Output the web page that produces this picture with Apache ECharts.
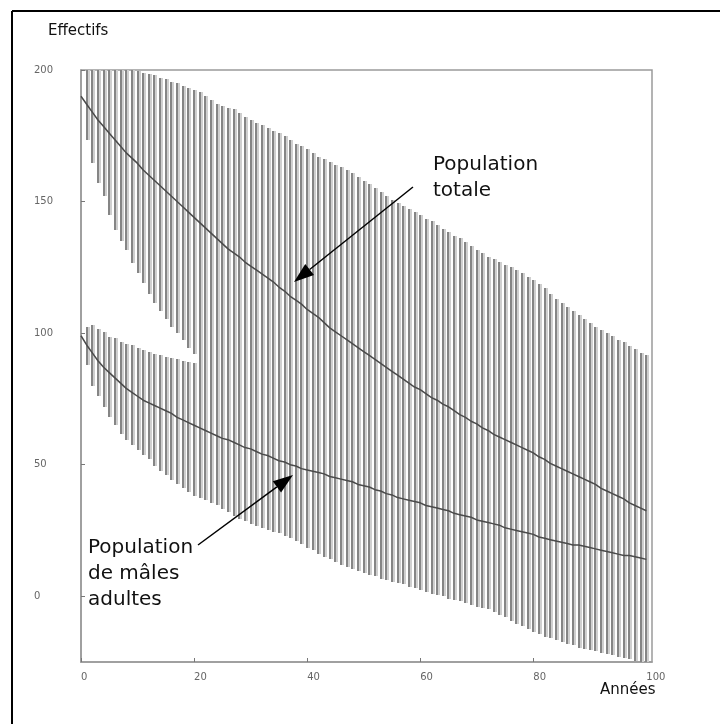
<!DOCTYPE html>
<html>
<head>
<meta charset="utf-8">
<script src="https://cdn.jsdelivr.net/npm/echarts@6/dist/echarts.min.js"></script>
<style>
  html, body { margin: 0; padding: 0; background: #fff; }
  #chart { width: 720px; height: 724px; }
</style>
</head>
<body>
<div id="chart"></div>
<script>
// années 0..100
const years = Array.from({ length: 101 }, (_, i) => i)

// population totale : moyenne, borne basse, borne haute
const totalMean = [190, 187, 184, 181, 178.5, 176, 173.5, 171, 168.5, 166.5,
  164.5, 162, 160, 158, 156, 154, 152, 150, 148, 146,
  144, 142, 140, 138, 136, 134, 132, 130.5, 129, 127,
  125.5, 124, 122.5, 121, 119.5, 117.5, 116, 114, 112.5, 111,
  109, 107.5, 106, 104, 102, 100.5, 99, 97.5, 96, 94.5,
  93, 91.5, 90, 88.5, 87, 85.5, 84, 82.5, 81, 79.5,
  78.5, 77, 75.5, 74.5, 73, 72, 70.5, 69, 68, 66.5,
  65.5, 64, 63, 61.5, 60.5, 59.5, 58.5, 57.5, 56.5, 55.5,
  54.5, 53, 52, 50.5, 49.5, 48.5, 47.5, 46.5, 45.5, 44.5,
  43.5, 42.5, 41, 40, 39, 38, 37, 35.5, 34.5, 33.5, 32.5]
const totalLow = [190, 173.5, 164.5, 157, 152, 145, 139, 135, 131.5, 126.5,
  123, 119, 115, 111.5, 108.5, 105.5, 102.5, 100, 97.5, 94.5,
  92, 88, 85.5, 83, 80.5, 78, 76, 74, 72, 70,
  68, 66, 64, 62, 60, 58, 56, 54, 52, 50,
  48, 46, 44.5, 42, 40, 38, 36, 34, 32, 30,
  28, 26.5, 25, 23.5, 22, 20.5, 19, 17.5, 15.5, 14,
  12.5, 11, 9.5, 8, 6.5, 5.5, 4, 3, 1.5, 0.5,
  -0.5, -1.5, -3, -4, -5, -6, -7, -8, -9, -10,
  -11, -11.5, -12.5, -13, -14, -14.5, -15, -15.5, -16, -16.5,
  -17, -17.5, -18.5, -19, -20, -20.5, -21.5, -22.5, -23.5, -24, -25]
const totalHigh = [190, 200, 200, 200, 200, 200, 200, 200, 200, 200,
  199.5, 199, 198.5, 198, 197, 196.5, 195.5, 195, 194, 193,
  192.5, 191.5, 190, 188.5, 187, 186.5, 185.5, 185, 183.5, 182,
  181, 180, 179, 178, 177, 176, 175, 173.5, 172, 171,
  170, 168.5, 167, 166, 165, 164, 163, 162, 161, 159.5,
  158, 156.5, 155, 153.5, 152, 150.5, 149.5, 148.5, 147, 146,
  145, 143.5, 142.5, 141, 139.5, 138.5, 137, 136, 134.5, 133,
  131.5, 130.5, 129, 128, 127, 126, 125, 124, 123, 121.5,
  120, 118.5, 117, 115, 113, 111.5, 110, 108.5, 107, 105.5,
  104, 102.5, 101, 100, 99, 97.5, 96.5, 95, 94, 92.5, 91.5]

// mâles adultes : moyenne, borne basse, borne haute
const maleMean = [99, 95.5, 92.5, 89.5, 87, 85, 83, 81, 79, 77.5,
  76, 74.5, 73.5, 72.5, 71.5, 70.5, 69.5, 68, 67, 66,
  65, 64, 63, 62, 61, 60, 59.5, 58.5, 57.5, 56.5,
  56, 55, 54, 53.5, 52.5, 51.5, 51, 50, 49.5, 48.5,
  48, 47.5, 47, 46.5, 45.5, 45, 44.5, 44, 43.5, 42.5,
  42, 41.5, 40.5, 40, 39, 38.5, 37.5, 37, 36.5, 36,
  35.5, 34.5, 34, 33.5, 33, 32.5, 31.5, 31, 30.5, 30,
  29, 28.5, 28, 27.5, 27, 26, 25.5, 25, 24.5, 24,
  23.5, 22.5, 22, 21.5, 21, 20.5, 20, 19.5, 19.5, 19,
  18.5, 18, 17.5, 17, 16.5, 16, 15.5, 15.5, 15, 14.5, 14]
const maleLow = [99, 88, 80, 76, 72, 68, 65, 61.5, 59.5, 57.5,
  55.5, 53.5, 52, 49.5, 47.5, 46, 44, 42.5, 41, 39.5,
  38, 37.5, 36.5, 35.5, 34.5, 33, 32, 30.5, 29.5, 28.5,
  27.5, 26.5, 26, 25, 24.5, 24, 23, 22, 21, 20,
  18.5, 17.5, 16, 15, 14, 13, 12, 11, 10.5, 9.5,
  9, 8, 7.5, 6.5, 6, 5.5, 5, 4.5, 3.5, 3,
  2.5, 1.5, 1, 0.5, 0, -1, -1.5, -2, -2.5, -3.5,
  -4, -4.5, -5, -6, -7, -8, -9.5, -10.5, -11.5, -12.5,
  -13.5, -14.5, -15.5, -16, -16.5, -17.5, -18, -18.5, -19.5, -20,
  -20.5, -21, -21.5, -22, -22.5, -23, -23.5, -24, -24.5, -25, -25.5]
const maleHigh = [99, 102.5, 103, 101.5, 100.5, 98.5, 98, 96.5, 96, 95.5,
  94.5, 93.5, 93, 92, 91.5, 91, 90.5, 90, 89.5, 89,
  88.5, 88, 87.5, 87, 86.5, 86, 86, 85.5, 85, 84.5,
  84.5, 84, 83, 82.5, 81.5, 80.5, 80, 79, 78.5, 78,
  77.5, 77, 77, 76.5, 76, 75.5, 75, 75, 74.5, 74,
  73.5, 73, 72.5, 72, 71.5, 71, 70.5, 70, 69.5, 69,
  68.5, 68, 67, 66.5, 66, 65.5, 64.5, 64, 63.5, 63,
  62, 61.5, 61, 60.5, 60.5, 60, 59.5, 59, 58.5, 58,
  57.5, 57, 56.5, 56, 55.5, 55, 55, 54.5, 54.5, 54,
  54, 53.5, 53.5, 53, 52.5, 52, 51.5, 51.5, 51, 50.5, 50]

const yMin = -25
const yMax = 200

const chart = echarts.init(document.getElementById('chart'))

// barre verticale : trait gris foncé + liseré gris clair
const renderBand = (params, api) => {
  const x = api.value(0)
  const lo = Math.max(api.value(1), yMin)
  const hi = Math.min(api.value(2), yMax)
  const top = api.coord([x, hi])
  const bottom = api.coord([x, lo])
  const px = Math.round(top[0])
  const y0 = Math.round(top[1])
  const h = Math.round(bottom[1]) - y0
  return {
    type: 'group',
    children: [
      { type: 'rect', shape: { x: px + 1, y: y0, width: 2, height: h }, style: { fill: '#cfcfcf' } },
      { type: 'rect', shape: { x: px - 1, y: y0, width: 2, height: h }, style: { fill: '#858585' } }
    ]
  }
}

// flèche : trait + pointe pleine
const arrow = (x1, y1, x2, y2) => {
  const dx = x2 - x1, dy = y2 - y1
  const len = Math.sqrt(dx * dx + dy * dy)
  const ux = dx / len, uy = dy / len
  const bx = x2 - ux * 20, by = y2 - uy * 20
  return [
    { type: 'line', shape: { x1, y1, x2: bx, y2: by }, style: { stroke: '#000', lineWidth: 1.5 }, z: 10 },
    {
      type: 'polygon',
      shape: { points: [[x2, y2], [bx - uy * 7, by + ux * 7], [bx + uy * 7, by - ux * 7]] },
      style: { fill: '#000' },
      z: 10
    }
  ]
}

const textFont = 'DejaVu Sans'

chart.setOption({
  backgroundColor: '#fff',
  animation: false,
  grid: { left: 81, right: 68, top: 70, bottom: 62, show: true, borderColor: '#9a9a9a', borderWidth: 1.5 },
  xAxis: {
    type: 'value',
    min: 0,
    max: 101,
    interval: 20,
    axisLine: { show: true, onZero: false, lineStyle: { color: '#9a9a9a', width: 1.5 } },
    axisTick: { show: true, inside: true, length: 4, lineStyle: { color: '#777' } },
    axisLabel: { showMaxLabel: false, align: 'left', margin: 10, fontSize: 10, color: '#666', fontFamily: 'DejaVu Sans' },
    splitLine: { show: false }
  },
  yAxis: {
    type: 'value',
    min: yMin,
    max: yMax,
    splitNumber: 5,
    axisLine: { show: true, onZero: false, lineStyle: { color: '#9a9a9a', width: 1.5 } },
    axisTick: { show: true, inside: true, length: 4, lineStyle: { color: '#777' } },
    axisLabel: { showMinLabel: false, align: 'left', margin: 47, fontSize: 10, color: '#666', fontFamily: 'DejaVu Sans' },
    splitLine: { show: false }
  },
  graphic: [
    { type: 'line', shape: { x1: 12, y1: 11, x2: 720, y2: 11 }, style: { stroke: '#000', lineWidth: 2 } },
    { type: 'line', shape: { x1: 12, y1: 11, x2: 12, y2: 724 }, style: { stroke: '#000', lineWidth: 2 } },
    { type: 'text', left: 48, top: 24, style: { text: 'Effectifs', font: '15px ' + textFont, fill: '#111' } },
    { type: 'text', left: 600, top: 683, style: { text: 'Années', font: '15px ' + textFont, fill: '#111' } },
    {
      type: 'text', left: 433, top: 152, z: 10,
      style: { text: 'Population\ntotale', font: '20px ' + textFont, lineHeight: 26, fill: '#111' }
    },
    {
      type: 'text', left: 88, top: 535, z: 10,
      style: { text: 'Population\nde mâles\nadultes', font: '20px ' + textFont, lineHeight: 26, fill: '#111' }
    },
    ...arrow(413, 187, 294, 282),
    ...arrow(198, 545, 293, 475)
  ],
  series: [
    {
      name: 'Intervalle total',
      type: 'custom',
      renderItem: renderBand,
      data: years.map((y, i) => [y, totalLow[i], totalHigh[i]]),
      z: 1
    },
    {
      name: 'Intervalle mâles',
      type: 'custom',
      renderItem: renderBand,
      data: years.map((y, i) => [y, maleLow[i], maleHigh[i]]),
      z: 1
    },
    {
      name: 'Population totale',
      type: 'line',
      data: years.map((y, i) => [y, totalMean[i]]),
      showSymbol: false,
      lineStyle: { color: '#4a4a4a', width: 1.5 },
      z: 3
    },
    {
      name: 'Mâles adultes',
      type: 'line',
      data: years.map((y, i) => [y, maleMean[i]]),
      showSymbol: false,
      lineStyle: { color: '#4a4a4a', width: 1.5 },
      z: 3
    }
  ]
})
</script>
</body>
</html>
